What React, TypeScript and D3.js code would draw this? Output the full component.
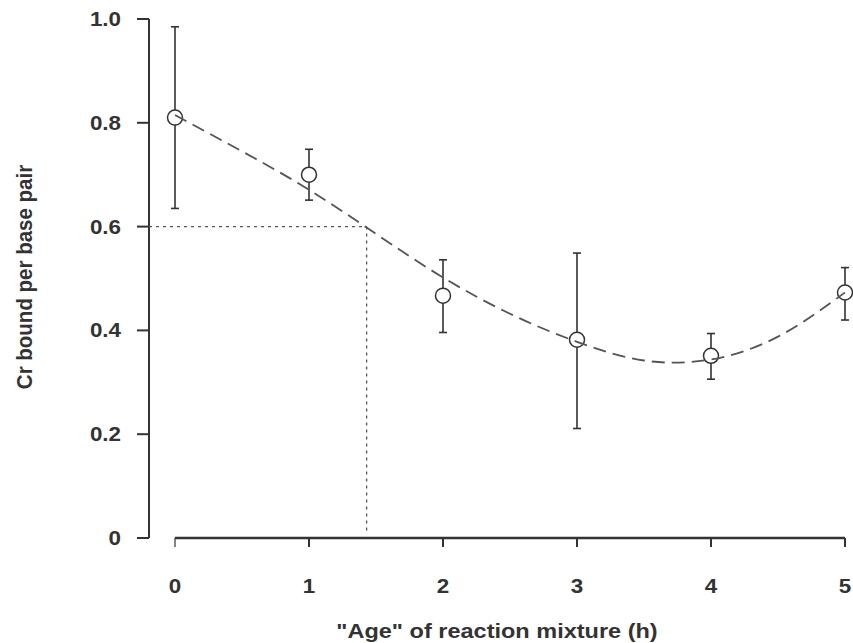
import React from "react";
import * as d3 from "d3";

const ages = [0, 1, 2, 3, 4, 5];
const meanValues = [0.81, 0.7, 0.467, 0.382, 0.351, 0.473];
const errLow = [0.635, 0.651, 0.396, 0.211, 0.306, 0.42];
const errHigh = [0.985, 0.749, 0.536, 0.549, 0.394, 0.521];

const fitX = [0, 0.5, 1, 1.5, 2, 2.5, 3, 3.5, 4, 4.5, 5];
const fitY = [0.815, 0.745, 0.671, 0.586, 0.502, 0.432, 0.378, 0.342, 0.344, 0.388, 0.473];

const xTicks = [0, 1, 2, 3, 4, 5];
const yTicks = [0, 0.2, 0.4, 0.6, 0.8, 1.0];
const yTickLabels = ["0", "0.2", "0.4", "0.6", "0.8", "1.0"];

const refX = 1.43;
const refY = 0.6;

const W = 853;
const H = 643;
const INK = "#333";
const FONT = "'Liberation Sans', Arial, sans-serif";
const SX = 1.12;

export default function App() {
  const x = d3.scaleLinear().domain([0, 5]).range([175, 845]);
  const y = d3.scaleLinear().domain([0, 1]).range([538, 19]);
  const line = d3
    .line<number>()
    .x((_, i) => x(fitX[i]))
    .y((d) => y(d))
    .curve(d3.curveNatural);
  const yAxisX = 149;

  return (
    <div style={{ position: "absolute", left: 0, top: 0 }}>
      <svg width={W} height={H} style={{ display: "block", background: "#fff" }}>
        {/* y axis */}
        <line x1={yAxisX} x2={yAxisX} y1={y(1)} y2={y(0)} stroke={INK} strokeWidth={2} />
        {yTicks.map((t, i) => (
          <g key={"yt" + i}>
            <line x1={yAxisX - 12} x2={yAxisX} y1={y(t)} y2={y(t)} stroke={INK} strokeWidth={2} />
            <text
              transform={`translate(121,${y(t) + 7}) scale(${SX},1)`}
              textAnchor="end"
              fontFamily={FONT}
              fontWeight="bold"
              fontSize={20}
              fill={INK}
            >
              {yTickLabels[i]}
            </text>
          </g>
        ))}
        {/* x axis */}
        <line x1={x(0)} x2={x(5)} y1={y(0)} y2={y(0)} stroke={INK} strokeWidth={2.5} />
        {xTicks.map((t, i) => (
          <g key={"xt" + i}>
            <line x1={x(t)} x2={x(t)} y1={y(0)} y2={y(0) + 9} stroke={INK} strokeWidth={i === 0 ? 1.2 : 2} />
            <text
              transform={`translate(${x(t)},593) scale(${SX},1)`}
              textAnchor="middle"
              fontFamily={FONT}
              fontWeight="bold"
              fontSize={20}
              fill={INK}
            >
              {String(t)}
            </text>
          </g>
        ))}
        {/* axis titles */}
        <text
          transform={`translate(497,638) scale(${SX},1)`}
          textAnchor="middle"
          fontFamily={FONT}
          fontWeight="bold"
          fontSize={21}
          fill={INK}
        >
          "Age" of reaction mixture (h)
        </text>
        <text
          transform={`translate(32,277) rotate(-90) scale(1,${SX})`}
          textAnchor="middle"
          fontFamily={FONT}
          fontWeight="bold"
          fontSize={20.5}
          fill={INK}
        >
          Cr bound per base pair
        </text>
        {/* reference dotted lines */}
        <line x1={yAxisX} x2={x(refX)} y1={y(refY)} y2={y(refY)} stroke="#555" strokeWidth={1.3} strokeDasharray="3,4" />
        <line x1={x(refX)} x2={x(refX)} y1={y(refY)} y2={y(0) - 6} stroke="#555" strokeWidth={1.3} strokeDasharray="3,4" />
        {/* error bars */}
        {ages.map((a, i) => (
          <g key={"eb" + i} stroke={INK} strokeWidth={1.6}>
            <line x1={x(a)} x2={x(a)} y1={y(errLow[i])} y2={y(errHigh[i])} />
            <line x1={x(a) - 4} x2={x(a) + 4} y1={y(errLow[i])} y2={y(errLow[i])} />
            <line x1={x(a) - 4} x2={x(a) + 4} y1={y(errHigh[i])} y2={y(errHigh[i])} />
          </g>
        ))}
        {/* points */}
        {ages.map((a, i) => (
          <circle key={"pt" + i} cx={x(a)} cy={y(meanValues[i])} r={7.5} fill="#fff" stroke={INK} strokeWidth={1.5} />
        ))}
        {/* fitted curve */}
        <path d={line(fitY) || ""} fill="none" stroke="#555" strokeWidth={1.8} strokeDasharray="13,7" />
      </svg>
    </div>
  );
}
